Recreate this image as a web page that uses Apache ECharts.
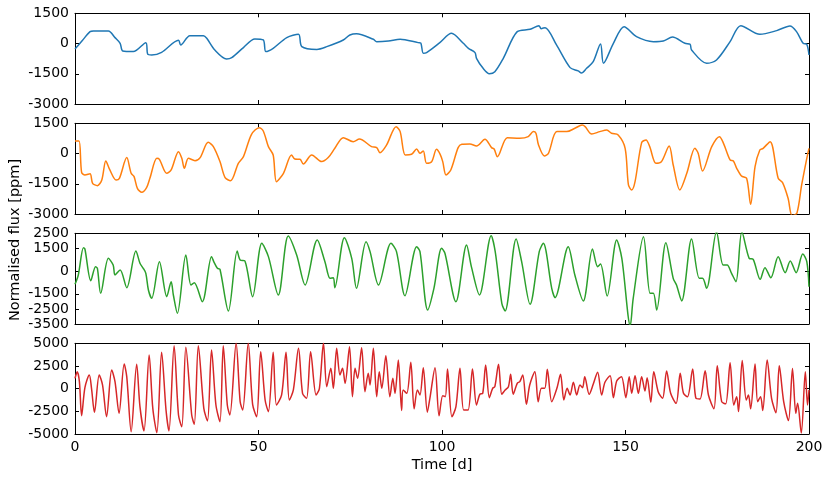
<!DOCTYPE html>
<html><head><meta charset="utf-8">
<script src="https://cdn.jsdelivr.net/npm/echarts@6/dist/echarts.min.js"></script>
<style>html,body{margin:0;padding:0;background:#fff}#c{width:830px;height:480px}</style>
</head><body><div id="c"></div>
<script>
// ---- data (time [d], flux [ppm]) ----
const xTicks = [0, 50, 100, 150, 200];
const yTicks1 = [-3000, -1500, 0, 1500];
const yTicks2 = [-3000, -1500, 0, 1500];
const yTicks3 = [-3500, -2500, -1500, 0, 1500, 2500];
const yTicks4 = [-5000, -2500, 0, 2500, 5000];

const blueSeries = [[0,-270],[2,150],[4.1,590],[5,623],[9.1,623],[10.9,293],[12.3,11],[13,-370],[15.9,-400],[19.3,45],[19.8,-520],[20.9,-570],[23.6,-435],[28.2,160],[28.8,-70],[31.3,392],[35,392],[35.9,260],[38.1,-320],[41.3,-765],[42.7,-700],[45.9,-200],[49,226],[51.3,177],[52,-400],[54,-237],[57.7,293],[60.9,458],[61.8,-154],[65.9,-290],[68.6,-154],[73.1,177],[74.9,425],[76.7,490],[81.3,210],[82.2,94],[85.4,127],[88.6,210],[93.5,45],[94.2,28],[94.9,-485],[95.8,-450],[99.4,45],[102.6,508],[105.8,11],[107.2,-237],[109,-450],[109.4,-733],[111.2,-1230],[112.9,-1494],[114.4,-1395],[116.7,-733],[120.5,590],[124,706],[126.4,888],[127,739],[128.1,789],[131.2,-71],[134.9,-1196],[137.1,-1360],[138,-1460],[139.4,-1230],[141.2,-900],[143.2,-20],[144,-980],[146.7,11],[149.6,838],[153,342],[157.6,94],[160.3,127],[162.8,326],[166.2,11],[167.6,-40],[168,-320],[172.1,-980],[174.8,-815],[178.5,94],[181.4,888],[186.6,458],[191.2,640],[194.8,871],[196.6,590],[198.4,11],[199.4,-40],[200,-570]];

const orangeSeries = [[0,623],[1.1,623],[1.8,-930],[2.7,-1060],[4.1,-1000],[4.8,-1477],[6.1,-1593],[7.3,-1310],[8.4,-370],[9.5,-815],[11.2,-1312],[12.1,-1230],[14.1,-200],[15.3,-980],[16.1,-1146],[17,-1725],[18.2,-1924],[19.5,-1692],[20.4,-1230],[22.3,-237],[23,-286],[25,-980],[26.2,-815],[28.2,94],[29.1,-237],[29.8,-733],[30.9,-237],[32.7,-352],[34.1,-200],[36.3,557],[37.7,342],[39.5,-400],[40.9,-1196],[42.4,-1345],[44.5,-485],[45.9,-154],[48.1,954],[50.2,1285],[51.3,1120],[52.7,342],[54,-71],[54.9,-1395],[56.8,-980],[59,-71],[59.9,-270],[61.3,-286],[62.2,-518],[64.5,-71],[67.2,-400],[69,-200],[70.8,260],[73.1,789],[75.8,590],[77.5,723],[80.8,342],[82.2,293],[83.1,45],[84.9,425],[87.5,1335],[88.6,1087],[90,-71],[91.7,-38],[93.1,226],[94,11],[94.9,127],[95.8,-485],[97.2,-400],[98.5,210],[99.5,-40],[100.2,-400],[101.1,-1060],[102.4,-815],[104.4,293],[105.4,458],[107.6,474],[109.4,375],[111.7,706],[113.5,293],[114.2,226],[115.1,-154],[117.8,789],[121.2,756],[123.5,838],[124.9,1087],[125.6,1004],[126.3,425],[127.9,-121],[129,11],[131.3,1087],[134,1087],[136.2,1252],[138.2,1417],[139,1335],[140.8,970],[143,1087],[144.9,1170],[146.2,1004],[148,921],[149.9,260],[150.8,-1560],[151.7,-1808],[152.6,-1395],[154.4,540],[155.6,673],[156.6,342],[158.3,-485],[159.8,-400],[161.9,375],[163,-568],[164.8,-1808],[166.7,-980],[168.9,260],[169.8,11],[171,-865],[173.5,342],[175.6,838],[176.7,507],[178.5,-320],[179.4,-370],[180.3,-733],[181.6,-1113],[183,-1230],[184.1,-2519],[185.3,-650],[186.6,177],[187.5,260],[189.4,590],[191.6,-1230],[192.8,-1444],[194.3,-2221],[195.4,-3080],[196.7,-2960],[198,-1560],[199.4,-237],[200,260]];

const greenSeries = [[0,-875],[0.9,-258],[2.3,1551],[2.7,1463],[4.3,-633],[5.6,294],[6.1,184],[7,-1471],[9.1,845],[10.4,404],[10.9,-258],[12.3,73],[14.1,-1096],[16.6,1331],[17.7,515],[18.6,184],[19.3,-147],[20,-1250],[20.9,-1802],[23,625],[25,-1691],[26.2,-699],[26.8,-1581],[27.9,-2794],[30.2,1066],[31.6,-919],[32.5,-765],[34.7,-2022],[37.2,956],[37.9,581],[38.8,184],[39.5,118],[41.8,-2640],[44.2,1331],[45,735],[46.3,669],[48.4,-1691],[50.9,1838],[52.7,956],[55.4,-1581],[58.1,2324],[60.4,1066],[62.7,-919],[66,2059],[68.1,625],[69.5,-478],[70.4,-434],[70.8,-1096],[73.4,2213],[75.4,845],[76.7,-1140],[79.3,1948],[80.4,1287],[82.7,-919],[86.1,1838],[87.6,1287],[89.9,-1625],[93.1,1618],[94,1287],[96.1,-2574],[97.8,-1140],[99.9,1507],[100.8,1176],[103.8,-2022],[106.7,1728],[108,294],[110.2,-1581],[113.4,2346],[114.5,1287],[116.3,-2133],[117.2,-2640],[120.2,2125],[121.7,625],[124,-2199],[126.5,1287],[127.6,1838],[129.9,-1140],[130.8,-1758],[134.4,1618],[136.2,-258],[138.5,-1978],[141,1463],[142.4,294],[143.2,471],[145,-1647],[147.6,2059],[149,845],[151.3,-3600],[152.1,-1802],[154.9,2280],[156.7,-1471],[157.6,-1471],[158.5,-2574],[161,1882],[163,-478],[163.9,-919],[165.3,-1978],[168,2125],[170.1,-478],[171,-478],[172.1,-1140],[174.8,2600],[176.6,404],[177.7,404],[178.9,-147],[180.1,-699],[181.7,2600],[183.7,845],[184.8,779],[186.7,-544],[188,228],[189.6,-434],[191.6,956],[193.5,-103],[194.9,669],[196.5,-103],[198.3,1132],[199.4,625],[200,-1030]];

const redSeries = [[0,1140],[0.6,1875],[1.2,773],[1.8,-2977],[2.7,111],[3.9,1508],[4.5,37],[5.3,-2610],[6.6,1508],[7.5,405],[8.6,-3087],[10,2059],[10.9,773],[12,-2720],[13.4,2721],[14.1,1324],[15.3,-4741],[16.8,2684],[17.7,-1984],[18.8,-4668],[20.2,3713],[21.2,-2168],[22.3,-4852],[23.6,4007],[24.8,-2352],[25.6,-4668],[27,4743],[28.2,-2903],[29.1,-4190],[30.2,4559],[31.8,-2903],[32.5,-3933],[33.6,4743],[35.1,-2168],[36.1,-3565],[37.2,4265],[38.4,-1800],[39.5,-3639],[40.4,4743],[41.5,-1800],[42.2,-2903],[43.9,5000],[45,-1433],[45.7,-2352],[47.2,5000],[48.4,-1727],[49.5,-3087],[50.6,4081],[51.8,-1249],[52.7,-2536],[54,4007],[54.9,-1800],[56.3,-698],[57.5,4007],[58.4,-1249],[59.5,-147],[60.9,4449],[62,-514],[63.1,-1065],[64.2,4081],[65.7,-698],[66.6,37],[67.7,5000],[68.6,221],[69.7,2243],[70.4,37],[71.3,4449],[72.2,1508],[72.9,2243],[73.6,589],[74.8,4632],[75.6,-882],[76.3,2243],[77,1140],[78.1,4522],[79,-330],[79.9,1692],[80.4,405],[81.3,4449],[82.2,-882],[82.9,1875],[83.6,37],[84.7,3640],[85.8,-882],[86.6,1140],[87.2,-514],[88.1,3162],[89,-2400],[89.4,-147],[90.4,-514],[91.5,2905],[92.4,-2220],[93.3,-147],[94,-698],[94.9,2317],[96,-2590],[96.7,-1065],[98.1,2317],[99.2,-3000],[100.2,-772],[100.9,-882],[101.5,2170],[102.7,-3100],[103.8,-1984],[104.9,2243],[105.9,-2352],[107.1,-2352],[108.3,2170],[109.4,-1800],[110.3,-624],[111.1,-514],[111.9,2611],[112.9,-992],[113.8,37],[114.4,221],[115.4,2684],[116.3,-624],[117.2,-147],[118.1,221],[118.7,1581],[119.4,-624],[120.5,589],[121.2,773],[122,1508],[123,-1727],[123.9,405],[125.3,1875],[126.2,-1433],[127.1,37],[128,37],[128.7,2133],[129.9,-1433],[131.3,37],[132.3,1581],[133.2,-1249],[134.1,37],[134.9,-698],[135.8,699],[136.7,-698],[137.6,405],[138.3,111],[138.9,1324],[140.1,-624],[141.2,479],[142.4,1802],[143.5,-698],[144.4,699],[145.8,1434],[146.7,-992],[147.6,846],[148.9,1324],[150.1,-992],[151,1324],[151.7,-514],[152.6,1434],[153.5,-514],[154.4,1324],[155.3,-257],[155.9,1214],[156.9,-1507],[157.7,1875],[158.9,-330],[160.1,-1065],[161.2,1949],[162.3,-514],[163.8,-1617],[164.9,1692],[165.8,-514],[166.9,-882],[168.3,2170],[169.2,-1065],[170.3,-1139],[171.7,1963],[172.6,-698],[174.1,-2220],[175,2519],[176.2,-1433],[177.3,-1670],[178.5,2852],[179.5,-1800],[180.3,-882],[180.8,-2520],[181.8,3111],[182.9,-1249],[183.5,-698],[184.1,-2220],[185.3,2704],[186,-1433],[186.8,-882],[187.4,-2400],[188.6,3148],[189.8,-1065],[191,-2670],[191.9,2519],[193.1,-1433],[194.4,-3520],[195.5,2222],[196.4,-2720],[196.9,-1617],[197.9,-4890],[199,1875],[199.6,-1800],[200,-147]];

const seriesColors = ['#1f77b4', '#ff7f0e', '#2ca02c', '#d62728'];
const yLabel = 'Normalised flux [ppm]';
const xLabel = 'Time [d]';

// ---- layout ----
const panelTops = [13.3, 123.3, 233.3, 343.3];
const panelH = 90.7;
const FONT = 'DejaVu Sans';
const TICK_FS = 14;
const TITLE_FS = 14.5;
const panels = [
  {data: blueSeries, ticks: yTicks1},
  {data: orangeSeries, ticks: yTicks2},
  {data: greenSeries, ticks: yTicks3},
  {data: redSeries, ticks: yTicks4}
];

const plain = v => String(v);
const lineStyle = {color: '#000', width: 1};
const grid = [], xAxis = [], yAxis = [], series = [];
panels.forEach((p, i) => {
  grid.push({left: 75, right: 21, top: panelTops[i], height: panelH});
  const last = i === panels.length - 1;
  const xCommon = {
    type: 'value', gridIndex: i, min: xTicks[0], max: xTicks[xTicks.length-1], interval: 50,
    axisLine: {show: true, onZero: false, lineStyle},
    axisTick: {show: true, inside: true, length: 4, lineStyle},
    splitLine: {show: false}
  };
  xAxis.push(Object.assign({}, xCommon, {
    position: 'bottom',
    axisLabel: {show: last, color: '#000', fontSize: TICK_FS, fontFamily: FONT, margin: 6, formatter: plain},
    name: last ? xLabel : '', nameLocation: 'middle', nameGap: 24,
    nameTextStyle: {color: '#000', fontSize: TITLE_FS, fontFamily: FONT}
  }));
  xAxis.push(Object.assign({}, xCommon, {position: 'top', axisLabel: {show: false}}));
  const ymin = p.ticks[0], ymax = p.ticks[p.ticks.length - 1];
  const yCommon = {
    type: 'value', gridIndex: i, min: ymin, max: ymax,
    axisLine: {show: true, onZero: false, lineStyle},
    axisTick: {show: true, inside: true, length: 4, lineStyle, customValues: p.ticks},
    splitLine: {show: false}
  };
  yAxis.push(Object.assign({}, yCommon, {
    position: 'left',
    axisLabel: {show: true, color: '#000', fontSize: TICK_FS, fontFamily: FONT, margin: 6,
      customValues: p.ticks, showMinLabel: true, showMaxLabel: true, formatter: plain}
  }));
  yAxis.push(Object.assign({}, yCommon, {position: 'right', axisLabel: {show: false}}));
  series.push({
    type: 'line', xAxisIndex: 2 * i, yAxisIndex: 2 * i, data: p.data,
    showSymbol: false, symbol: 'none', smooth: 0.3, clip: true,
    lineStyle: {color: seriesColors[i], width: 1.5}, itemStyle: {color: seriesColors[i]},
    animation: false
  });
});

const chart = echarts.init(document.getElementById('c'), null, {renderer: 'canvas'});
chart.setOption({
  animation: false,
  backgroundColor: '#fff',
  grid, xAxis, yAxis, series,
  graphic: [{
    type: 'text', x: 15, y: 240, rotation: Math.PI / 2,
    style: {text: yLabel, x: 0, y: 0, align: 'center', verticalAlign: 'middle',
      font: TITLE_FS + 'px "DejaVu Sans"', fill: '#000'}
  }]
});
</script></body></html>
